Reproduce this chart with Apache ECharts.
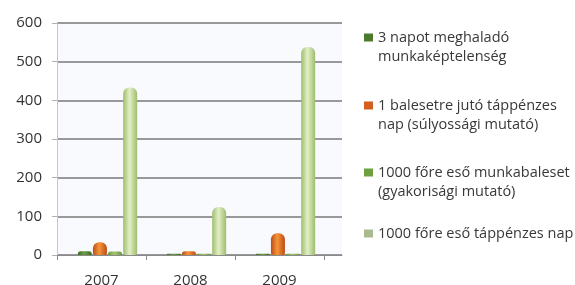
<!DOCTYPE html>
<html>
<head>
<meta charset="utf-8">
<script src="https://cdn.jsdelivr.net/npm/echarts@6/dist/echarts.min.js"></script>
<style>
	html, body { margin: 0; padding: 0; background: #fff; }
	#chart { width: 575px; height: 285px; }
</style>
</head>
<body>
<div id="chart"></div>
<script>
// évek és mutatók
var years = ["2007", "2008", "2009"]
var yTicks = [0, 100, 200, 300, 400, 500, 600]
var names = [
	"3 napot meghaladó\nmunkaképtelenség",
	"1 balesetre jutó táppénzes\nnap (súlyossági mutató)",
	"1000 főre eső munkabaleset\n(gyakorisági mutató)",
	"1000 főre eső táppénzes nap"
]
var munkakeptelenseg = [10, 3, 3]
var sulyossagi = [33, 10, 56]
var gyakorisagi = [9, 3, 3]
var tappenzesNap = [433, 124, 538]

var FONT = "Open Sans"
var LH = 19

function cyl(edge, mid) {
	return new echarts.graphic.LinearGradient(0, 0, 1, 0, [
		{offset: 0, color: edge},
		{offset: 0.45, color: mid},
		{offset: 1, color: edge}
	])
}

var styles = [
	{edge: "#3c6a20", mid: "#6f9f48", icon: "#4a7a2c"},
	{edge: "#bd4c16", mid: "#f5953a", icon: "#d2601e"},
	{edge: "#6a983c", mid: "#a2c674", icon: "#6ea040"},
	{edge: "#9fbd6c", mid: "#e2efc6", icon: "#a9ba8e"}
]
var values = [munkakeptelenseg, sulyossagi, gyakorisagi, tappenzesNap]

// soronként külön legenda, így az ikon az első sorhoz igazodik
var legendTops = [28, 96, 163, 224]
var legends = []
names.forEach(function (n, i) {
	let lines = n.split("\n")
	lines.forEach(function (line, k) {
		legends.push({
			left: 364,
			top: legendTops[i] + k * LH,
			orient: "vertical",
			padding: 0,
			itemWidth: 9,
			itemHeight: 8,
			icon: k == 0 ? "rect" : "none",
			selectedMode: false,
			data: [{name: n, itemStyle: {color: styles[i].icon}}],
			formatter: function () {
				return line
			},
			textStyle: {
				fontFamily: FONT,
				fontSize: 14.5,
				color: "#383838",
				lineHeight: LH
			}
		})
	})
})

var series = values.map(function (v, i) {
	return {
		name: names[i],
		type: "bar",
		xAxisIndex: 2,
		yAxisIndex: 2,
		data: v,
		barWidth: 14,
		barGap: "8%",
		itemStyle: {
			color: cyl(styles[i].edge, styles[i].mid),
			borderRadius: [6, 6, 2, 2]
		}
	}
})

var chart = echarts.init(document.getElementById("chart"))
chart.setOption({
	animation: false,
	legend: legends,
	grid: [
		{left: 57, right: 233, top: 23, bottom: 30, outerBoundsMode: "none", show: true, backgroundColor: "#f8fafd", borderWidth: 0},
		{left: 57, width: 267, top: 23, bottom: 30, outerBoundsMode: "none"},
		{left: 63, width: 267, top: 23, bottom: 30, outerBoundsMode: "none"}
	],
	xAxis: [
		{
			gridIndex: 0, type: "value", min: 0, max: 1,
			axisLine: {show: true, lineStyle: {color: "#8a8a8a", width: 1}},
			axisTick: {show: false}, axisLabel: {show: false}, splitLine: {show: false}
		},
		{
			gridIndex: 1, type: "category", data: years, position: "bottom",
			axisLine: {show: false},
			axisTick: {show: true, inside: false, length: 5, lineStyle: {color: "#8a8a8a"}},
			axisLabel: {fontFamily: FONT, fontSize: 15, color: "#333", margin: 18},
			splitLine: {show: false}
		},
		{
			gridIndex: 2, type: "category", data: years, show: false
		}
	],
	yAxis: [
		{
			gridIndex: 0, type: "value", min: yTicks[0], max: yTicks[yTicks.length - 1], interval: 100,
			axisLine: {show: true, lineStyle: {color: "#c8c8c8"}},
			axisTick: {show: true, length: 5, lineStyle: {color: "#b0b0b0"}},
			axisLabel: {fontFamily: FONT, fontSize: 15, color: "#333", margin: 15},
			splitLine: {show: true, lineStyle: {color: "#999999", width: 2}}
		},
		{gridIndex: 1, type: "value", min: 0, max: 600, show: false, splitLine: {show: false}},
		{gridIndex: 2, type: "value", min: 0, max: 600, show: false, splitLine: {show: false}}
	],
	series: series
})
</script>
</body>
</html>
